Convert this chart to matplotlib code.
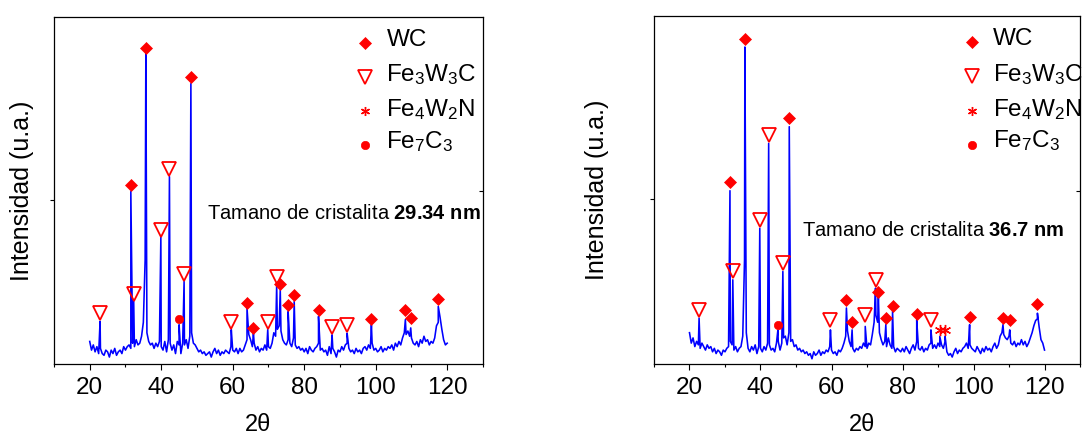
import numpy as np
import matplotlib.pyplot as plt
from matplotlib.ticker import MultipleLocator

plt.rcParams['font.family'] = ['Liberation Sans', 'DejaVu Sans']
plt.rcParams['mathtext.fontset'] = 'custom'
plt.rcParams['mathtext.rm'] = 'Liberation Sans'
plt.rcParams['mathtext.it'] = 'Liberation Sans:italic'
plt.rcParams['mathtext.bf'] = 'Liberation Sans:bold'

# 2theta grid of the background readings (20..120, step 0.5)
two_theta = np.arange(20, 120.01, 0.5)

# background readings, left pattern
base_1 = [6.5, 4.0, 5.5, 3.5, 5.0, 3.0, 4.5, 3.0, 2.5, 4.0,
          3.5, 2.0, 4.0, 3.0, 4.5, 2.5, 3.5, 4.0, 3.0, 5.0,
          4.0, 5.0, 5.5, 4.5, 6.0, 5.0, 7.0, 5.5, 6.0, 8.0,
          12.0, 30.0, 9.0, 6.5, 5.5, 6.0, 4.5, 6.0, 5.0, 6.5,
          5.0, 4.0, 6.5, 3.5, 7.0, 6.0, 4.0, 5.5, 3.0, 6.5,
          5.5, 3.0, 6.0, 5.5, 7.0, 4.5, 8.0, 9.0, 6.0, 5.5,
          4.5, 3.5, 4.0, 3.0, 3.5, 2.5, 3.0, 3.5, 2.0, 3.5,
          4.5, 3.0, 4.0, 2.5, 3.5, 3.0, 4.0, 3.5, 3.0, 5.0,
          4.0, 3.5, 4.5, 3.0, 4.5, 3.5, 4.0, 5.5, 7.0, 8.5,
          7.0, 5.0, 6.0, 4.0, 5.0, 3.5, 4.5, 4.0, 5.5, 4.0,
          5.0, 4.5, 6.0, 9.0, 8.0, 10.0, 11.0, 9.5, 7.0, 6.0,
          5.5, 7.0, 6.0, 5.0, 7.5, 5.5, 4.5, 5.0, 4.0, 4.5,
          3.5, 4.5, 3.0, 5.0, 4.0, 3.5, 4.5, 5.0, 6.0, 4.0,
          4.5, 3.5, 4.0, 2.5, 5.0, 3.0, 4.5, 3.5, 2.0, 4.0,
          3.5, 5.0, 4.0, 5.5, 6.0, 4.5, 3.5, 4.0, 3.0, 4.5,
          3.5, 4.0, 3.0, 4.5, 5.0, 4.0, 5.5, 4.5, 6.0, 4.0,
          4.5, 3.5, 4.0, 5.0, 3.5, 4.5, 4.0, 5.0, 4.5, 5.5,
          4.0, 6.0, 5.0, 6.5, 5.5, 7.5, 9.0, 8.5, 9.5, 8.0,
          7.5, 6.0, 5.5, 6.5, 5.0, 7.0, 6.0, 8.0, 6.5, 7.0,
          5.5, 6.5, 6.0, 7.5, 11.0, 12.0, 13.5, 10.0, 7.0, 5.5,
          6.0]

# background readings, right pattern
base_2 = [9.0, 6.0, 7.5, 5.0, 6.5, 5.5, 4.5, 6.0, 5.0, 4.0,
          5.5, 4.5, 5.0, 3.5, 4.5, 3.0, 4.0, 3.5, 2.5, 4.0,
          3.5, 4.5, 5.0, 6.5, 5.5, 4.0, 5.0, 3.5, 4.5, 5.0,
          8.0, 30.0, 9.0, 4.5, 3.5, 5.0, 4.0, 5.5, 3.0, 5.0,
          4.5, 3.5, 5.0, 4.0, 6.0, 5.5, 4.0, 4.5, 3.5, 6.0,
          6.5, 4.0, 6.0, 7.5, 8.0, 5.5, 9.0, 6.5, 7.0, 5.0,
          5.5, 4.0, 4.5, 3.5, 4.0, 3.0, 3.5, 2.5, 3.0, 1.5,
          3.5, 2.5, 3.0, 4.0, 2.5, 3.5, 3.0, 4.0, 3.5, 5.0,
          4.0, 3.0, 3.5, 2.5, 4.0, 3.5, 4.5, 6.0, 8.0, 9.5,
          6.5, 5.0, 4.5, 3.5, 4.5, 4.0, 5.0, 4.5, 6.0, 5.0,
          4.5, 6.0, 5.5, 8.5, 12.0, 14.0, 12.0, 9.0, 7.0, 5.5,
          6.5, 5.0, 7.5, 5.5, 4.5, 5.0, 3.5, 4.5, 4.0, 3.5,
          4.5, 3.5, 5.0, 4.0, 3.0, 4.5, 5.5, 4.0, 6.5, 4.5,
          4.0, 5.0, 3.5, 4.5, 4.0, 5.5, 6.0, 4.5, 5.5, 4.5,
          6.0, 5.0, 5.5, 4.5, 6.5, 3.5, 2.5, 3.0, 2.0, 3.5,
          4.5, 3.0, 4.0, 3.5, 4.5, 5.0, 6.0, 4.5, 5.5, 4.5,
          4.0, 3.5, 5.0, 4.0, 3.0, 4.5, 3.5, 5.0, 4.0, 4.5,
          3.5, 5.0, 6.0, 4.5, 5.5, 8.0, 9.0, 8.5, 7.5, 7.0,
          8.0, 6.0, 5.5, 6.5, 5.0, 6.0, 5.5, 7.0, 5.5, 6.5,
          5.0, 6.0, 7.5, 9.0, 11.0, 12.5, 13.0, 10.5, 7.0, 6.0,
          4.0]

# peak tops
peaks_x_1 = [22.9, 31.5, 32.3, 35.7, 39.9, 42.3, 45.0, 46.4, 48.3, 59.6, 64.0, 65.8,
             69.8, 72.3, 73.3, 75.5, 77.2, 84.0, 87.8, 92.0, 98.8, 108.3, 109.8, 117.5]
peaks_y_1 = [12.3, 49.7, 18.5, 89.5, 36.7, 54.0, 11.3, 23.8, 80.8, 9.9, 16.1, 8.9,
             9.9, 22.8, 21.4, 15.1, 18.0, 13.7, 8.4, 8.9, 11.3, 12.8, 10.4, 16.6]
peaks_x_2 = [22.7, 31.4, 32.2, 35.6, 39.8, 42.3, 44.9, 46.3, 48.1, 59.7, 64.2, 65.8, 69.5,
             72.4, 73.2, 75.3, 77.2, 84.0, 88.0, 90.5, 92.0, 98.9, 108.3, 110.2, 118.0]
peaks_y_2 = [13.2, 49.8, 24.2, 91.1, 39.0, 63.4, 9.8, 26.6, 68.2, 9.8, 16.1, 9.8, 10.8,
             21.8, 19.4, 11.3, 15.1, 12.7, 9.8, 7.9, 7.9, 11.3, 11.3, 9.8, 14.6]

# phase markers, left
wc_x_1 = [31.5, 35.7, 48.3, 64.0, 65.8, 73.3, 75.5, 77.2, 84.0, 98.8, 108.3, 109.8, 117.5]
wc_y_1 = [51.5, 91.1, 82.6, 17.5, 10.5, 23.0, 16.9, 19.8, 15.6, 13.0, 15.6, 13.2, 18.8]
fwc_x_1 = [22.9, 32.3, 39.9, 42.3, 46.4, 59.6, 69.8, 72.3, 87.8, 92.0]
fwc_y_1 = [14.7, 20.2, 38.6, 56.2, 26.0, 12.0, 12.0, 25.2, 10.8, 11.3]
fwn_x_1 = []
fwn_y_1 = []
fc_x_1 = [45.0]
fc_y_1 = [12.9]

# phase markers, right
wc_x_2 = [31.4, 35.6, 48.1, 64.2, 65.8, 73.2, 75.3, 77.2, 84.0, 98.9, 108.3, 110.2, 118.0]
wc_y_2 = [52.2, 93.5, 70.6, 18.5, 12.0, 20.7, 13.2, 16.7, 14.4, 13.5, 13.2, 12.7, 17.3]
fwc_x_2 = [22.7, 32.2, 39.8, 42.3, 46.3, 59.7, 69.5, 72.4, 88.0]
fwc_y_2 = [15.6, 26.6, 41.4, 65.8, 29.0, 12.5, 14.1, 24.2, 12.5]
fwn_x_2 = [90.5, 92.0]
fwn_y_2 = [9.8, 9.8]
fc_x_2 = [44.9]
fc_y_2 = [11.3]

sizes = ['29.34', '36.7']
xticks = [20, 40, 60, 80, 100, 120]

RED = '#FF0000'
BLUE = '#0000FF'

styles = {
    'wc': dict(marker='D', ms=6.5, mfc=RED, mec=RED, mew=0.5),
    'fwc': dict(marker='v', ms=10.5, mfc='none', mec=RED, mew=1.3),
    'fwn': dict(marker=(6, 2, 0), ms=8, mec=RED, mew=1.0),
    'fc': dict(marker='o', ms=6, mfc=RED, mec=RED, mew=0.5),
}
legend_rows = [('wc', 'WC'), ('fwc', r'Fe$_3$W$_3$C'),
               ('fwn', r'Fe$_4$W$_2$N'), ('fc', r'Fe$_7$C$_3$')]
leg_styles = {
    'wc': dict(marker='D', ms=6, mfc=RED, mec=RED, mew=0.5),
    'fwc': dict(marker='v', ms=9.5, mfc='none', mec=RED, mew=1.3),
    'fwn': dict(marker=(6, 2, 0), ms=6.5, mec=RED, mew=1.0),
    'fc': dict(marker='o', ms=6, mfc=RED, mec=RED, mew=0.5),
}


def panel(ax, base, px, py, marks, size, leg_x, txt_x, txt_y, lab_x, ypad):
    x = np.concatenate([two_theta, px])
    y = np.concatenate([base, py])
    order = np.argsort(x, kind='stable')
    ax.plot(x[order], y[order], color=BLUE, lw=1.15)
    for key, (mx, my) in marks.items():
        if len(mx):
            ax.plot(mx, my, ls='none', **styles[key])
    ax.set_xlim(10, 130)
    ax.set_ylim(0, 100)
    ax.set_xticks(xticks)
    ax.xaxis.set_minor_locator(MultipleLocator(10))
    ax.set_yticks([47.3])
    ax.set_yticklabels([])
    ax.tick_params(axis='x', which='major', direction='out', length=4.5, width=0.8,
                   labelsize=17.5, pad=5)
    ax.tick_params(axis='x', which='minor', direction='out', length=2.5, width=0.8)
    ax.tick_params(axis='y', direction='out', length=3, width=0.8)
    for s in ax.spines.values():
        s.set_linewidth(0.9)
    ax.set_ylabel('Intensidad (u.a.)', fontsize=18, labelpad=ypad)
    ax.set_xlabel('2θ', fontsize=17)
    ax.xaxis.set_label_coords(lab_x, -0.143)
    # the right-hand spine has one inward tick
    twin = ax.twinx()
    twin.set_ylim(0, 100)
    twin.set_yticks([49.8])
    twin.set_yticklabels([])
    twin.tick_params(axis='y', direction='in', length=3, width=0.8)
    for s in twin.spines.values():
        s.set_visible(False)
    # legend by hand
    row_y = [0.925, 0.828, 0.728, 0.630]
    base_y = [0.917, 0.814, 0.713, 0.622]
    for (key, label), ry, by in zip(legend_rows, row_y, base_y):
        ax.plot([leg_x], [ry], transform=ax.transAxes, clip_on=False, ls='none',
                **leg_styles[key])
        ax.text(leg_x + 0.05, by, label, transform=ax.transAxes, fontsize=17.5,
                va='baseline', ha='left', clip_on=False)
    ax.text(txt_x, txt_y, 'Tamano de cristalita $\\mathbf{' + size + '\\ nm}$',
            transform=ax.transAxes, fontsize=14.5, va='center', ha='left')


fig = plt.figure(figsize=(10.86, 4.34), dpi=100)
ax1 = fig.add_axes([0.0497, 0.1613, 0.395, 0.7995])
ax2 = fig.add_axes([0.6022, 0.1613, 0.3923, 0.8018])

panel(ax1, base_1, peaks_x_1, peaks_y_1,
      {'wc': (wc_x_1, wc_y_1), 'fwc': (fwc_x_1, fwc_y_1),
       'fwn': (fwn_x_1, fwn_y_1), 'fc': (fc_x_1, fc_y_1)},
      sizes[0], 0.725, 0.357, 0.435, 0.475, 8)
panel(ax2, base_2, peaks_x_2, peaks_y_2,
      {'wc': (wc_x_2, wc_y_2), 'fwc': (fwc_x_2, fwc_y_2),
       'fwn': (fwn_x_2, fwn_y_2), 'fc': (fc_x_2, fc_y_2)},
      sizes[1], 0.746, 0.347, 0.385, 0.488, 26)

fig.savefig('out.png', dpi=100)
